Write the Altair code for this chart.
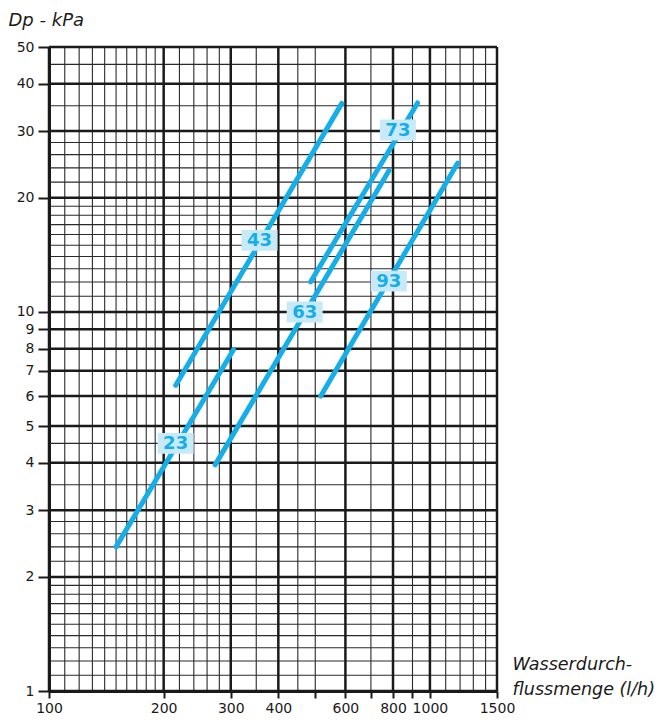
import altair as alt
import pandas as pd

# ---- grid / tick values ----
x_major = [100, 200, 300, 400, 600, 800, 1000, 1500]
x_minor = [110, 120, 130, 140, 150, 160, 170, 180, 190, 220, 240, 260, 280,
           350, 450, 500, 700, 900, 1100, 1200, 1300, 1400]
y_major = [1, 2, 3, 4, 5, 6, 7, 8, 9, 10, 20, 30, 40, 50]
y_minor = [1.1, 1.2, 1.3, 1.4, 1.5, 1.6, 1.7, 1.8, 1.9, 2.2, 2.4, 2.6, 2.8,
           3.5, 4.5, 11, 12, 13, 14, 15, 16, 17, 18, 19, 22, 24, 26, 28, 35, 45]
x_ticks = [100, 200, 300, 400, 500, 600, 700, 800, 900, 1000, 1500]
y_ticks = [1, 2, 3, 4, 5, 6, 7, 8, 9, 10, 20, 30, 40, 50]

# ---- curves (flow l/h vs pressure drop kPa) ----
series = ["23", "43", "63", "73", "93"]
x_start = [150, 215, 273, 486, 517]
y_start = [2.4, 6.4, 3.95, 12.0, 6.0]
x_end = [305, 587, 781, 928, 1183]
y_end = [7.95, 35.5, 23.6, 35.6, 24.7]
label_x = [215, 357, 469, 824, 780]
label_y = [4.5, 15.45, 10.0, 30.2, 12.06]

LINE = "#15aee9"
BOX = "#c8e9f8"
INK = "#1a1a1a"
FONT = "DejaVu Sans"

lines_df = pd.DataFrame({
    "series": series + series,
    "x": x_start + x_end,
    "y": y_start + y_end,
})
labels_df = pd.DataFrame({"series": series, "x": label_x, "y": label_y})

xs = alt.Scale(type="log", domain=[100, 1500], nice=False, zero=False)
ys = alt.Scale(type="log", domain=[1, 50], nice=False, zero=False)

x_axis = alt.Axis(
    values=x_ticks, format="d",
    labelExpr="(datum.value == 500 || datum.value == 700 || datum.value == 900) ? '' : datum.label",
    grid=False, tickSize=7, tickWidth=2, tickColor=INK,
    domainWidth=3, domainColor=INK,
    labelFont=FONT, labelFontSize=14, labelColor=INK, labelPadding=3,
    labelFlush=False, labelOverlap=False,
    title=["Wasserdurch-", "flussmenge (l/h)"],
    titleX=463, titleY=-22, titleAlign="left", titleBaseline="alphabetic",
    titleLineHeight=25, titleFont=FONT, titleFontSize=17.5,
    titleFontStyle="italic", titleFontWeight="normal", titleColor=INK,
)
y_axis = alt.Axis(
    values=y_ticks, format="d",
    grid=False, tickSize=11, tickWidth=2, tickColor=INK,
    domainWidth=3, domainColor=INK,
    labelFont=FONT, labelFontSize=14, labelColor=INK, labelPadding=4,
    labelFlush=False, labelOverlap=False,
    title="Dp - kPa", titleAngle=0, titleX=-41, titleY=-22,
    titleAlign="left", titleBaseline="alphabetic",
    titleFont=FONT, titleFontSize=18, titleFontStyle="italic",
    titleFontWeight="normal", titleColor=INK,
)

X = lambda f: alt.X(f, scale=xs, axis=x_axis)
Y = lambda f: alt.Y(f, scale=ys, axis=y_axis)

xminor = alt.Chart(pd.DataFrame({"v": x_minor})).mark_rule(
    color="#2a2a2a", strokeWidth=1.1).encode(x=X("v:Q"))
xmajor = alt.Chart(pd.DataFrame({"v": x_major})).mark_rule(
    color=INK, strokeWidth=2.5).encode(x=X("v:Q"))
yminor = alt.Chart(pd.DataFrame({"v": y_minor})).mark_rule(
    color="#2a2a2a", strokeWidth=1.1).encode(y=Y("v:Q"))
ymajor = alt.Chart(pd.DataFrame({"v": y_major})).mark_rule(
    color=INK, strokeWidth=2.5).encode(y=Y("v:Q"))

curves = alt.Chart(lines_df).mark_line(
    color=LINE, strokeWidth=5, strokeCap="round").encode(
    x=X("x:Q"), y=Y("y:Q"), detail="series:N",
)

boxes = alt.Chart(labels_df).mark_point(
    shape="M-1,-0.58L1,-0.58L1,0.58L-1,0.58Z", size=1296,
    filled=True, fill=BOX, opacity=1, strokeWidth=0).encode(
    x=X("x:Q"), y=Y("y:Q"),
)

texts = alt.Chart(labels_df).mark_text(
    font=FONT, fontWeight="bold", fontSize=18, color=LINE,
    align="center", baseline="middle", dy=1).encode(
    x=X("x:Q"), y=Y("y:Q"), text="series:N",
)

chart = alt.layer(xminor, yminor, xmajor, ymajor, curves, boxes, texts).properties(
    width=448, height=644,
    autosize=alt.AutoSizeParams(type="none"),
    padding={"left": 41, "top": 39, "right": 158, "bottom": 26},
    background="white",
).configure_view(stroke=None)

chart.save("out.html", embed_options={"renderer": "svg", "actions": False})
